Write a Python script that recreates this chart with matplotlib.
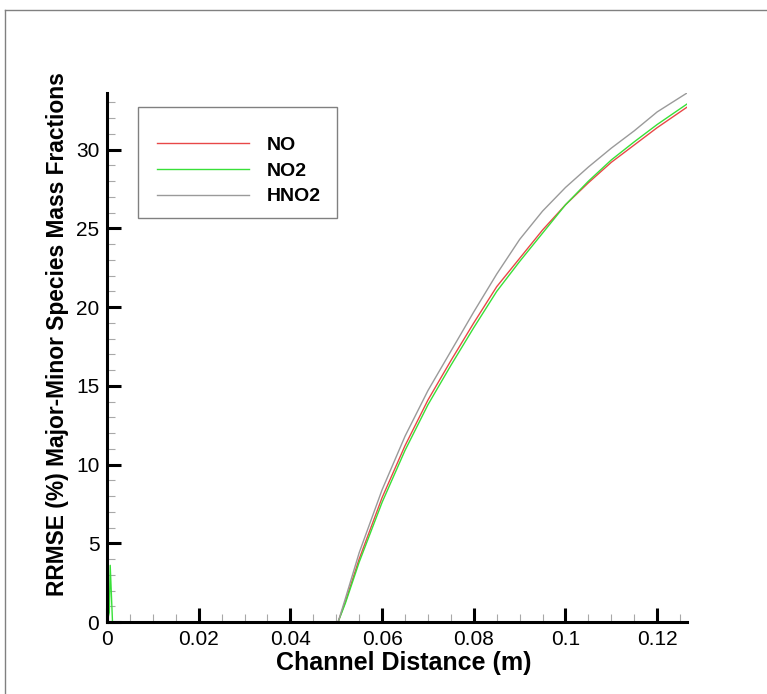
import matplotlib
matplotlib.use("Agg")
import matplotlib.pyplot as plt
from matplotlib.patches import Rectangle
from matplotlib.ticker import MultipleLocator, FormatStrFormatter

plt.rcParams['font.family'] = ['Liberation Sans', 'DejaVu Sans']

# channel distance (m) and RRMSE (%) per species
x_curve = [0.0504, 0.052, 0.055, 0.060, 0.065, 0.070, 0.075, 0.080, 0.085,
           0.090, 0.095, 0.100, 0.105, 0.110, 0.115, 0.120, 0.1265]
no_curve = [0, 1.3, 4.0, 7.9, 11.2, 14.1, 16.6, 19.0, 21.3,
            23.1, 24.9, 26.5, 27.9, 29.2, 30.3, 31.4, 32.7]
no2_curve = [0, 1.2, 3.8, 7.6, 10.9, 13.8, 16.3, 18.7, 21.0,
             22.9, 24.7, 26.5, 28.0, 29.35, 30.5, 31.6, 32.9]
hno2_curve = [0, 1.5, 4.4, 8.4, 11.8, 14.7, 17.2, 19.7, 22.1,
              24.3, 26.1, 27.6, 28.9, 30.1, 31.2, 32.4, 33.6]

# small NO2 spike right at the inlet
x_inlet = [0, 0.0005, 0.0007, 0.0012]
no2_inlet = [0, 0.6, 3.6, 0]

x_no = [0] + x_curve
y_no = [0] + no_curve
x_no2 = x_inlet + x_curve
y_no2 = no2_inlet + no2_curve
x_hno2 = [0] + x_curve
y_hno2 = [0] + hno2_curve

fig = plt.figure(figsize=(7.67, 6.94), dpi=100)
ax = fig.add_axes([107/767, 72/694, 580/767, 529/694])

ax.plot(x_no, y_no, color='#e84848', lw=1.0, label='NO')
ax.plot(x_no2, y_no2, color='#38e038', lw=1.0, label='NO2')
ax.plot(x_hno2, y_hno2, color='#9a9a9a', lw=1.0, label='HNO2')

ax.set_xlim(0, 0.1265)
ax.set_ylim(0, 33.6)

for s in ['top', 'right']:
    ax.spines[s].set_visible(False)
for s in ['left', 'bottom']:
    ax.spines[s].set_linewidth(2.2)

ax.xaxis.set_major_locator(MultipleLocator(0.02))
ax.xaxis.set_minor_locator(MultipleLocator(0.005))
ax.yaxis.set_major_locator(MultipleLocator(5))
ax.yaxis.set_minor_locator(MultipleLocator(1))
ax.xaxis.set_major_formatter(FormatStrFormatter('%g'))
ax.yaxis.set_major_formatter(FormatStrFormatter('%g'))

ax.tick_params(which='major', direction='in', length=10, width=2.2,
               labelsize=15, pad=5.5, color='black')
ax.tick_params(which='minor', direction='in', length=5.8, width=0.8,
               color='#a8a8a8')

ax.set_xlabel('Channel Distance (m)', fontsize=18, fontweight='bold')
ax.set_ylabel('RRMSE (%) Major-Minor Species Mass Fractions',
              fontsize=16.4, fontweight='bold')
ax.xaxis.set_label_coords(0.511, -0.055)
ax.yaxis.set_label_coords(-0.066, 0.544)

# legend box drawn separately, entries placed inside it
ax.add_patch(Rectangle((0.0534, 0.7637), 0.3431, 0.2098,
                       transform=ax.transAxes, fill=True, facecolor='white',
                       edgecolor='#808080', lw=1.0, zorder=4))
leg = ax.legend(loc='upper left', bbox_to_anchor=(0.0862, 0.9184),
                borderaxespad=0, borderpad=0, frameon=False,
                prop={'size': 14, 'weight': 'bold'},
                handlelength=4.75, handletextpad=0.9, labelspacing=0.42)
leg.set_zorder(5)

# outer frame lines
fig.add_artist(plt.Line2D([5/767, 1], [1 - 10/694, 1 - 10/694],
                          transform=fig.transFigure, color='#808080', lw=1))
fig.add_artist(plt.Line2D([5/767, 5/767], [0, 1 - 10/694],
                          transform=fig.transFigure, color='#808080', lw=1))

fig.savefig('out.png', dpi=100)
